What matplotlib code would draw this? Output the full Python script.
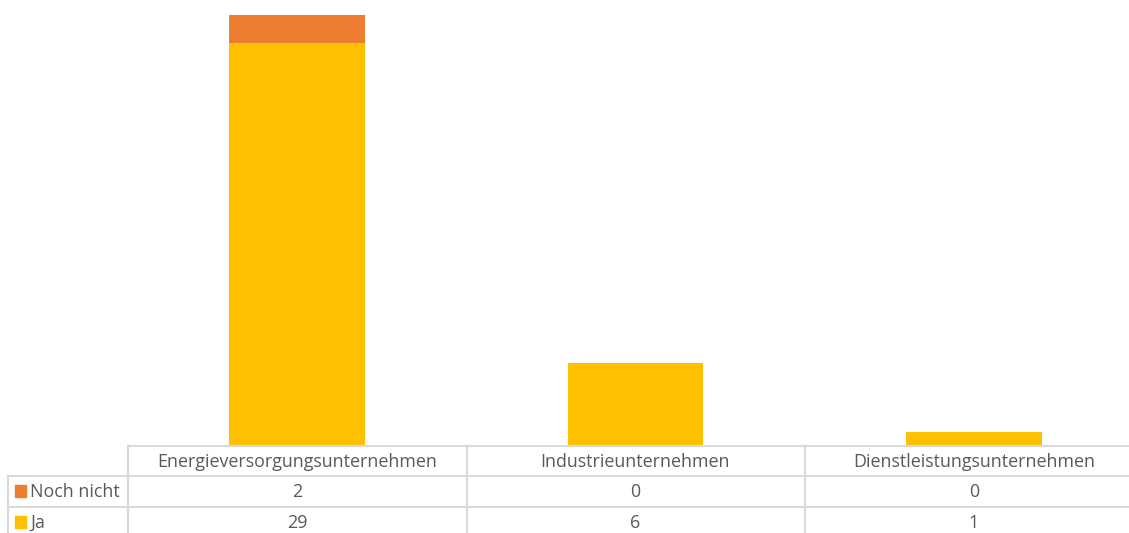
import matplotlib
matplotlib.use("Agg")
import matplotlib.pyplot as plt
import matplotlib.transforms as mtransforms
from matplotlib.lines import Line2D
from matplotlib.patches import Rectangle

categories = ["Energieversorgungsunternehmen", "Industrieunternehmen", "Dienstleistungsunternehmen"]
ja = [29, 6, 1]
noch_nicht = [2, 0, 0]
series = [("Noch nicht", noch_nicht, "#ED7D31"), ("Ja", ja, "#FFC000")]

W, H = 1129, 533
plt.rcParams['font.family'] = ['Open Sans', 'DejaVu Sans']
fig = plt.figure(figsize=(W / 100, H / 100), dpi=100)

def fy(py):
    return 1 - py / H

def fx(px):
    return px / W

ax = fig.add_axes([fx(128), fy(446), fx(1143) - fx(128), fy(0) - fy(446)])
x = list(range(len(categories)))
ax.bar(x, ja, width=0.4, color="#FFC000")
ax.bar(x, noch_nicht, width=0.4, bottom=ja, color="#ED7D31")
ax.set_xlim(-0.5, len(categories) - 0.5)
ax.set_ylim(0, 32.1)
ax.axis("off")

grid = "#D9D9D9"
txt = "#595959"
fs = 12.9

def hline(py, x0, x1):
    fig.add_artist(Line2D([fx(x0), fx(x1)], [fy(py), fy(py)], color=grid, lw=1.5))

def vline(px, y0, y1):
    fig.add_artist(Line2D([fx(px), fx(px)], [fy(y0), fy(y1)], color=grid, lw=1.5))

hline(446, 128, 1143)
hline(476, 8, 1143)
hline(507, 8, 1143)
vline(8, 476, 540)
for px in [128, 467, 805]:
    vline(px, 446, 540)

trans = mtransforms.blended_transform_factory(ax.transData, fig.transFigure)
for i, c in enumerate(categories):
    fig.text(i, fy(462), c, transform=trans, ha="center", va="center", color=txt, fontsize=fs)

row_y = [492, 523]
for (name, vals, col), ry in zip(series, row_y):
    fig.add_artist(Rectangle((fx(15), fy(ry + 5)), fx(11), 12 / H, color=col))
    fig.text(fx(30), fy(ry), name, ha="left", va="center", color=txt, fontsize=fs)
    for i, v in enumerate(vals):
        fig.text(i, fy(ry), str(v), transform=trans, ha="center", va="center", color=txt, fontsize=fs)

fig.savefig("out.png", dpi=100)
